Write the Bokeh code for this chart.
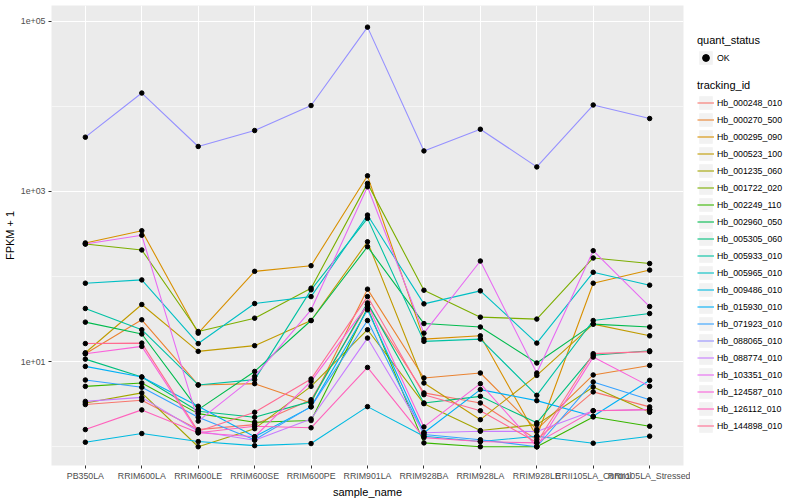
from bokeh.plotting import figure
from bokeh.layouts import row
from bokeh.models import FactorRange, Range1d, FixedTicker, Legend, LegendItem
from bokeh.embed import file_html
from bokeh.resources import INLINE

samples = ["PB350LA", "RRIM600LA", "RRIM600LE", "RRIM600SE", "RRIM600PE", "RRIM901LA",
           "RRIM928BA", "RRIM928LA", "RRIM928LE", "RRII105LA_Control", "RRII105LA_Stressed"]

tracking_ids = ["Hb_000248_010", "Hb_000270_500", "Hb_000295_090", "Hb_000523_100", "Hb_001235_060",
                "Hb_001722_020", "Hb_002249_110", "Hb_002960_050", "Hb_005305_060", "Hb_005933_010",
                "Hb_005965_010", "Hb_009486_010", "Hb_015930_010", "Hb_071923_010", "Hb_088065_010",
                "Hb_088774_010", "Hb_103351_010", "Hb_124587_010", "Hb_126112_010", "Hb_144898_010"]

# FPKM + 1 per sample
hb_000248_010 = [3.13, 3.51, 1.59, 1.82, 3.57, 46.5, 4.29, 3.27, 1.21, 4.41, 2.94]
hb_000270_500 = [12.4, 31.0, 5.32, 5.51, 3.27, 71.0, 6.43, 7.35, 1.59, 6.97, 9.02]
hb_000295_090 = [248, 345, 21.6, 115, 134, 1524, 18.4, 20.1, 1.32, 83.4, 119]
hb_000523_100 = [12.7, 46.9, 13.2, 15.4, 30.4, 256, 5.61, 2.08, 6.89, 27.6, 20.1]
hb_001235_060 = [3.27, 4.29, 1.0, 1.63, 5.12, 23.7, 3.21, 1.55, 1.82, 5.04, 2.54]
hb_001722_020 = [241, 205, 22.6, 32.4, 72.9, 1242, 69.0, 33.3, 31.6, 165, 142]
hb_002249_110 = [5.12, 5.61, 2.45, 1.94, 2.03, 42.8, 1.11, 1.0, 1.0, 2.24, 1.74]
hb_002960_050 = [29.1, 21.1, 2.73, 7.67, 30.4, 224, 28.0, 25.5, 9.64, 27.6, 25.5]
hb_005305_060 = [10.7, 6.59, 2.61, 2.22, 3.41, 49.0, 3.27, 3.91, 1.91, 11.9, 13.4]
hb_005933_010 = [42.1, 23.7, 5.32, 6.14, 69.7, 482, 17.3, 18.4, 4.02, 30.4, 36.7]
hb_005965_010 = [83.4, 91.2, 16.3, 48.1, 58.1, 527, 47.7, 67.8, 16.5, 112, 79.1]
hb_009486_010 = [1.13, 1.43, 1.15, 1.03, 1.09, 2.96, 1.33, 1.15, 1.33, 1.10, 1.33]
hb_015930_010 = [8.79, 6.59, 2.99, 1.31, 2.94, 40.6, 1.46, 4.69, 3.48, 2.28, 6.03]
hb_071923_010 = [6.08, 4.99, 2.22, 1.21, 2.96, 30.4, 1.39, 1.21, 1.0, 5.77, 3.57]
hb_088065_010 = [4335, 14300, 3370, 5190, 10200, 85100, 2990, 5370, 1940, 10350, 7180]
hb_088774_010 = [3.41, 3.80, 1.52, 1.19, 2.12, 18.9, 1.46, 1.52, 1.51, 2.65, 2.73]
hb_103351_010 = [241, 305, 2.0, 6.7, 40.6, 1132, 21.6, 152, 7.35, 201, 44.4]
hb_124587_010 = [12.4, 15.1, 1.46, 1.31, 5.86, 46.5, 1.71, 5.51, 1.0, 11.3, 5.12]
hb_126112_010 = [1.59, 2.71, 1.46, 1.74, 1.67, 8.55, 1.28, 1.15, 1.11, 2.65, 2.73]
hb_144898_010 = [16.3, 16.5, 1.52, 2.54, 6.25, 58.1, 4.09, 2.65, 1.12, 12.4, 13.1]

series_values = [hb_000248_010, hb_000270_500, hb_000295_090, hb_000523_100, hb_001235_060,
                 hb_001722_020, hb_002249_110, hb_002960_050, hb_005305_060, hb_005933_010,
                 hb_005965_010, hb_009486_010, hb_015930_010, hb_071923_010, hb_088065_010,
                 hb_088774_010, hb_103351_010, hb_124587_010, hb_126112_010, hb_144898_010]

quant_status = ["OK"]

y_ticks = [10, 1000, 100000]
y_minor = [1, 100, 10000]
y_tick_labels = ["1e+01", "1e+03", "1e+05"]

palette = ["#F8766D", "#EA8331", "#D89000", "#C09B00", "#A3A500", "#7CAE00", "#39B600", "#00BB4E",
           "#00BF7D", "#00C1A3", "#00BFC4", "#00BAE0", "#00B0F6", "#35A2FF", "#9590FF", "#C77CFF",
           "#E76BF3", "#FA62DB", "#FF62BC", "#FF6C91"]

FONT = "Liberation Sans"
NAN = float("nan")

# ---------------- main panel ----------------
p = figure(width=690, height=500,
           x_range=FactorRange(factors=samples, range_padding=0.1, range_padding_units="absolute"),
           y_axis_type="log", y_range=Range1d(10 ** -0.2204, 10 ** 5.184),
           output_backend="svg", toolbar_location=None,
           min_border_left=49, min_border_right=7, min_border_top=5, min_border_bottom=34)

p.background_fill_color = "#EBEBEB"
p.border_fill_color = "white"
p.outline_line_color = None

ticker = FixedTicker(ticks=y_ticks, minor_ticks=y_minor)
p.yaxis.ticker = ticker
p.ygrid.ticker = ticker
p.yaxis.major_label_overrides = dict(zip(y_ticks, y_tick_labels))

p.xgrid.grid_line_color = "white"
p.xgrid.grid_line_width = 1.1
p.ygrid.grid_line_color = "white"
p.ygrid.grid_line_width = 1.1
p.ygrid.minor_grid_line_color = "white"
p.ygrid.minor_grid_line_width = 0.55

for ax in (p.xaxis[0], p.yaxis[0]):
    ax.axis_line_color = None
    ax.major_tick_line_color = "#333333"
    ax.major_tick_out = 3
    ax.major_tick_in = 0
    ax.minor_tick_line_color = None
    ax.major_label_text_font = FONT
    ax.major_label_text_font_size = "8.8px"
    ax.major_label_text_color = "#4D4D4D"
    ax.major_label_standoff = 2
    ax.axis_label_text_font = FONT
    ax.axis_label_text_font_size = "11px"
    ax.axis_label_text_font_style = "normal"
    ax.axis_label_text_color = "black"
    ax.axis_label_standoff = 2

p.xaxis.axis_label = "sample_name"
p.yaxis.axis_label = "FPKM + 1"

for vals, col in zip(series_values, palette):
    p.line(x=samples, y=vals, line_color=col, line_width=1.1)

pts_x = [s for vals in series_values for s in samples]
pts_y = [v for vals in series_values for v in vals]
p.scatter(x=pts_x, y=pts_y, size=4.5, color="black", marker="circle")

# ---------------- legend panel ----------------
lf = figure(width=110, height=500, output_backend="svg", toolbar_location=None,
            x_range=Range1d(0, 1), y_range=Range1d(0, 1),
            x_axis_location=None, y_axis_location=None,
            min_border_left=0, min_border_right=0, min_border_top=0, min_border_bottom=0)
lf.grid.visible = False
lf.outline_line_color = None
lf.background_fill_color = "white"
lf.border_fill_color = "white"

# legend-only proxies (NaN data: nothing drawn in the panel, only their legend keys)
key_bg = lf.quad(left=[NAN], right=[NAN], top=[NAN], bottom=[NAN], fill_color="#F2F2F2", line_color=None)
key_pt = lf.scatter(x=[NAN], y=[NAN], size=4.5, color="black", marker="circle")

items = []
for tid, col in zip(tracking_ids, palette):
    r = lf.line(x=[NAN], y=[NAN], line_color=col, line_width=1.1)
    items.append(LegendItem(label=tid, renderers=[key_bg, r]))


def style_legend(leg):
    leg.title_text_font = FONT
    leg.title_text_font_size = "11px"
    leg.title_text_font_style = "normal"
    leg.title_text_color = "black"
    leg.title_standoff = 3
    leg.label_text_font = FONT
    leg.label_text_font_size = "8.8px"
    leg.label_text_color = "black"
    leg.label_standoff = 3
    leg.glyph_width = 17
    leg.glyph_height = 17
    leg.label_height = 17
    leg.spacing = 0
    leg.padding = 0
    leg.margin = 0
    leg.border_line_color = None
    leg.background_fill_alpha = 0


leg_q = Legend(items=[LegendItem(label=quant_status[0], renderers=[key_bg, key_pt])],
               title="quant_status", location=(7, 399))
style_legend(leg_q)
lf.add_layout(leg_q)

leg_t = Legend(items=items, title="tracking_id", location=(7, 31))
style_legend(leg_t)
lf.add_layout(leg_t)

layout = row(p, lf)
open("out.html", "w").write(file_html(layout, INLINE))
